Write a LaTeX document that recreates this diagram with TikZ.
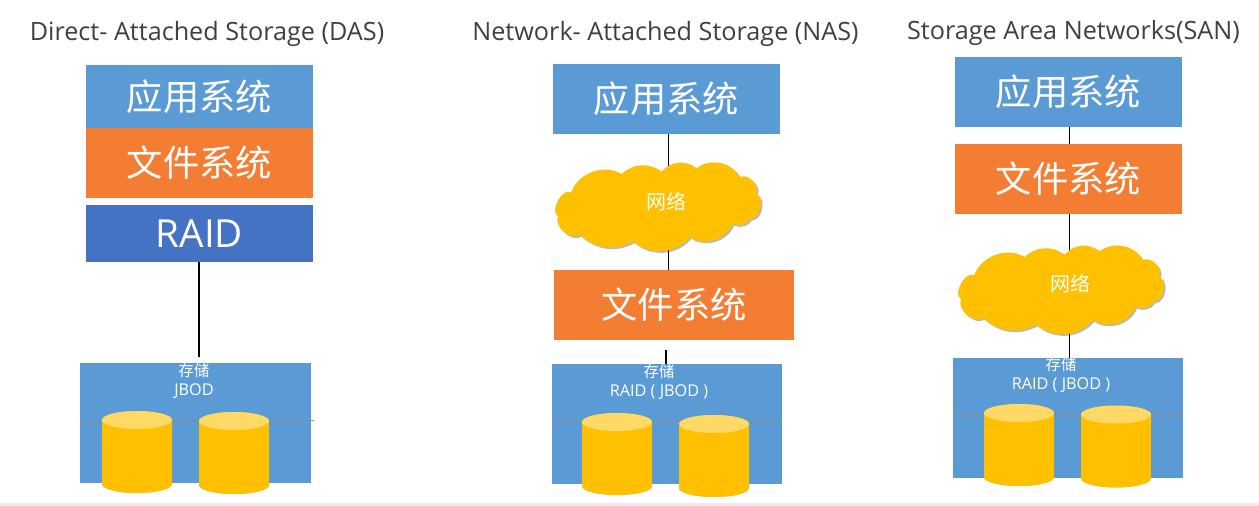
\documentclass[tikz,border=0pt]{standalone}
\usepackage{fontspec}
\setmainfont{Open Sans}
\newfontfamily\cjk{Noto Sans CJK SC}
\usetikzlibrary{shapes.geometric}
\definecolor{cblue}{HTML}{5B9BD5}
\definecolor{corange}{HTML}{F37D32}
\definecolor{craid}{HTML}{4472C4}
\definecolor{cgold}{HTML}{FFC000}
\definecolor{cgoldtop}{HTML}{FFD966}
\pgfdeclarelayer{paper}
\pgfdeclarelayer{links}
\pgfsetlayers{paper,links,main}
\tikzset{
  titletext/.style={text=black!75,font=\fontsize{18.9}{21}\selectfont,inner sep=0pt,anchor=center},
  bigbox/.style={inner sep=0pt,text=white,minimum width=170.25pt,font=\fontsize{27.2}{30}\cjk},
  storebox/.style={inner sep=0pt,minimum width=172.5pt,minimum height=90pt},
  storetext/.style={text=white,align=center,inner sep=0pt,font=\fontsize{12.2}{14.5}\selectfont},
  diskslot/.style={inner sep=0pt,minimum width=52.5pt,minimum height=61.5pt},
  cloudslot/.style={ellipse,inner sep=0pt,minimum width=157.5pt,minimum height=63.75pt},
  nettext/.style={text=white,inner sep=0pt,font=\fontsize{15}{17}\cjk},
  link/.style={draw=black,line width=1.2pt},
  seam/.style={draw=black!45,line width=.5pt},
  softshadow/.style={fill=black!70,opacity=.4}
}
\newcommand{\storefont}{\fontsize{11.5}{14.5}\cjk}
% cylinder drawn around a named slot; local unit = 1 reference pixel
\newcommand{\diskbody}[2]{%
  \fill[#2] ([shift={(-35,-32)}]#1.center) -- ([shift={(-35,32)}]#1.center)
     arc[start angle=180,end angle=360,x radius=26.25pt,y radius=6.75pt]
     -- ([shift={(35,-32)}]#1.center) arc[start angle=0,end angle=180,x radius=26.25pt,y radius=6.75pt] -- cycle;}
\newcommand{\diskat}[1]{%
  \begin{scope}[shift={(0,2)}]\diskbody{#1}{softshadow}\end{scope}
  \diskbody{#1}{cgold}
  \fill[cgoldtop] ([shift={(0,-32)}]#1.center) ellipse[x radius=26.25pt,y radius=6.75pt];}
% cloud outline around a named slot; local unit = 1/3 reference pixel
\newcommand{\cloudshape}[3]{%
  \begin{scope}[shift={(#1.center)},shift={(#2)},x=.25pt,y=-.25pt,shift={(-351,-171)}]
  \fill[#3] (93,128) to[bend left=50] (245,72) to[bend left=40] (365,65)
   to[bend left=45] (470,55) to[bend left=50] (600,82)
   to[bend left=80] (648,130) to[bend left=75] (632,207)
   to[bend left=40] (578,222) to[bend left=50] (450,262)
   to[bend left=45] (280,275) to[bend left=35] (120,255)
   to[bend left=80] (55,198) to[bend left=100] (93,128) -- cycle;
  \end{scope}}
\newcommand{\cloudat}[1]{\cloudshape{#1}{1.5,1.5}{softshadow}\cloudshape{#1}{0,0}{cgold}}
\begin{document}
\begin{tikzpicture}[x=0.75pt,y=-0.75pt]
\useasboundingbox (0,0) rectangle (1259,506);
\begin{pgfonlayer}{paper}
\fill[white] (0,0) rectangle (1259,506);
\fill[black!8] (0,503) rectangle (1259,506);
\end{pgfonlayer}

% titles
\node[titletext] (t1) at (207,34) {Direct- Attached Storage (DAS)};
\node[titletext] (t2) at (665.5,34) {Network- Attached Storage (NAS)};
\node[titletext] (t3) at (1073.5,33) {Storage Area Networks(SAN)};

% DAS
\node[bigbox,fill=cblue,minimum height=47.25pt] (a1) at (199.5,96.5) {\raisebox{-1.5pt}{应用系统}};
\node[bigbox,fill=corange,minimum height=52.5pt] (f1) at (199.5,163) {文件系统};
\node[bigbox,fill=craid,minimum height=42.75pt,font=\fontsize{29}{32}\selectfont] (r1) at (199.5,233.5) {RAID};
\node[storebox] (s1) at (195.5,423) {};
\node[storetext,anchor=north] (st1) at (194,363) {{\storefont 存储}\\JBOD};
\coordinate (e1) at (199,357);
\draw[link] (r1.south -| e1) -- (e1);
\node[diskslot] (d11) at (137,452) {};
\node[diskslot] (d12) at (234,453) {};

% NAS
\node[bigbox,fill=cblue,minimum height=52.5pt] (a2) at (666.5,99) {应用系统};
\node[cloudslot] (c2) at (657,207) {};
\cloudat{c2}
\node[nettext] (n2) at (666,202) {网络};
\node[bigbox,fill=corange,minimum width=180pt,minimum height=52.5pt] (f2) at (674,305) {文件系统};
\node[storebox] (s2) at (667,424) {};
\node[storetext,anchor=north] (st2) at (659,364) {{\storefont 存储}\\RAID ( JBOD )};
\node[diskslot] (d21) at (617,454) {};
\node[diskslot] (d22) at (714,456) {};
\coordinate (e2) at (666,350);
\draw[link] (e2) -- (e2 |- s2.north);

% SAN
\node[bigbox,fill=cblue,minimum height=52.5pt] (a3) at (1068.5,92) {应用系统};
\node[bigbox,fill=corange,minimum height=52.5pt] (f3) at (1068.5,179) {文件系统};
\node[cloudslot] (c3) at (1060,290) {};
\cloudat{c3}
\node[nettext] (n3) at (1070,284) {网络};
\node[storebox] (s3) at (1068,418) {};
\node[storetext,anchor=north] (st3) at (1061,357) {{\storefont 存储}\\RAID ( JBOD )};
\node[diskslot] (d31) at (1019,445) {};
\node[diskslot] (d32) at (1116,446.5) {};
\draw[link] ([xshift=.75pt]a3.south) -- ([xshift=.75pt]f3.north);

\foreach \d in {d11,d12,d21,d22,d31,d32} {\diskat{\d}}

% under-layer: box fills, seams, links that pass behind clouds
\begin{pgfonlayer}{paper}
\fill[cblue] (s1.north west) rectangle (s1.south east);
\fill[cblue] (s2.north west) rectangle (s2.south east);
\fill[cblue] (s3.north west) rectangle (s3.south east);
\draw[seam] (85,420.5) -- (314,420.5);
\draw[seam] (552,421.5) -- (782,421.5);
\draw[seam] (953,414.5) -- (1183,414.5);
\end{pgfonlayer}
\begin{pgfonlayer}{links}
\draw[link] ([xshift=1.5pt]a2.south) -- ([xshift=1.5pt]f2.north -| a2.south);
\draw[link] ([xshift=.75pt]f3.south) -- ([xshift=.75pt]f3.south |- s3.north);
\end{pgfonlayer}
\end{tikzpicture}
\end{document}
